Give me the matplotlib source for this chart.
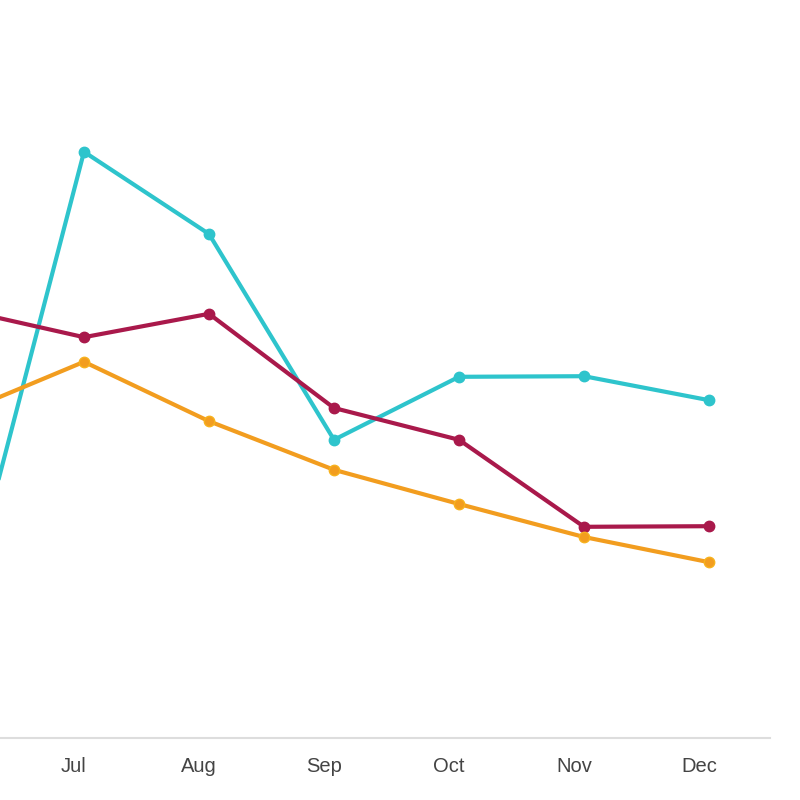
import matplotlib
matplotlib.use("Agg")
import matplotlib.pyplot as plt
import matplotlib.transforms as mtransforms

months = ["Jun", "Jul", "Aug", "Sep", "Oct", "Nov", "Dec"]
cyan_vals = [17.8, 97.7, 84.0, 49.7, 60.2, 60.3, 56.3]
magenta_vals = [71.5, 66.8, 70.7, 55.0, 49.7, 35.2, 35.3]
orange_vals = [54.0, 62.7, 52.8, 44.7, 39.0, 33.5, 29.3]

fig = plt.figure(figsize=(8, 8), dpi=100)
ax = fig.add_axes([0.0, 62 / 800, 770 / 800, 738 / 800])

x = list(range(len(months)))
series = [
    (cyan_vals, "#2EC4CC", "#2EC4CC"),
    (magenta_vals, "#A9194B", "#A9194B"),
    (orange_vals, "#F29D1F", "#F7B21E"),
]
for vals, col, edge in series:
    ax.plot(x, vals, color=col, lw=3.0, marker="o", markersize=7.5,
            markerfacecolor=col, markeredgecolor=edge, markeredgewidth=1.0,
            solid_joinstyle="round", clip_on=True)

ax.set_xlim(1 - 84 / 125, 1 + 686 / 125)
ax.set_ylim(0, 123)
ax.set_xticks(x[1:])
ax.set_xticklabels(months[1:], fontsize=14.5, color="#444444", family="Liberation Sans")
ax.tick_params(axis="x", length=0, pad=13.5)
ax.set_yticks([])
for s in ["top", "right", "left"]:
    ax.spines[s].set_visible(False)
ax.spines["bottom"].set_color("#DDDDDD")
ax.spines["bottom"].set_linewidth(1.5)

offset = mtransforms.ScaledTranslation(-10 / 100, 0, fig.dpi_scale_trans)
for lbl in ax.get_xticklabels():
    lbl.set_transform(lbl.get_transform() + offset)

fig.savefig("out.png", dpi=100)
